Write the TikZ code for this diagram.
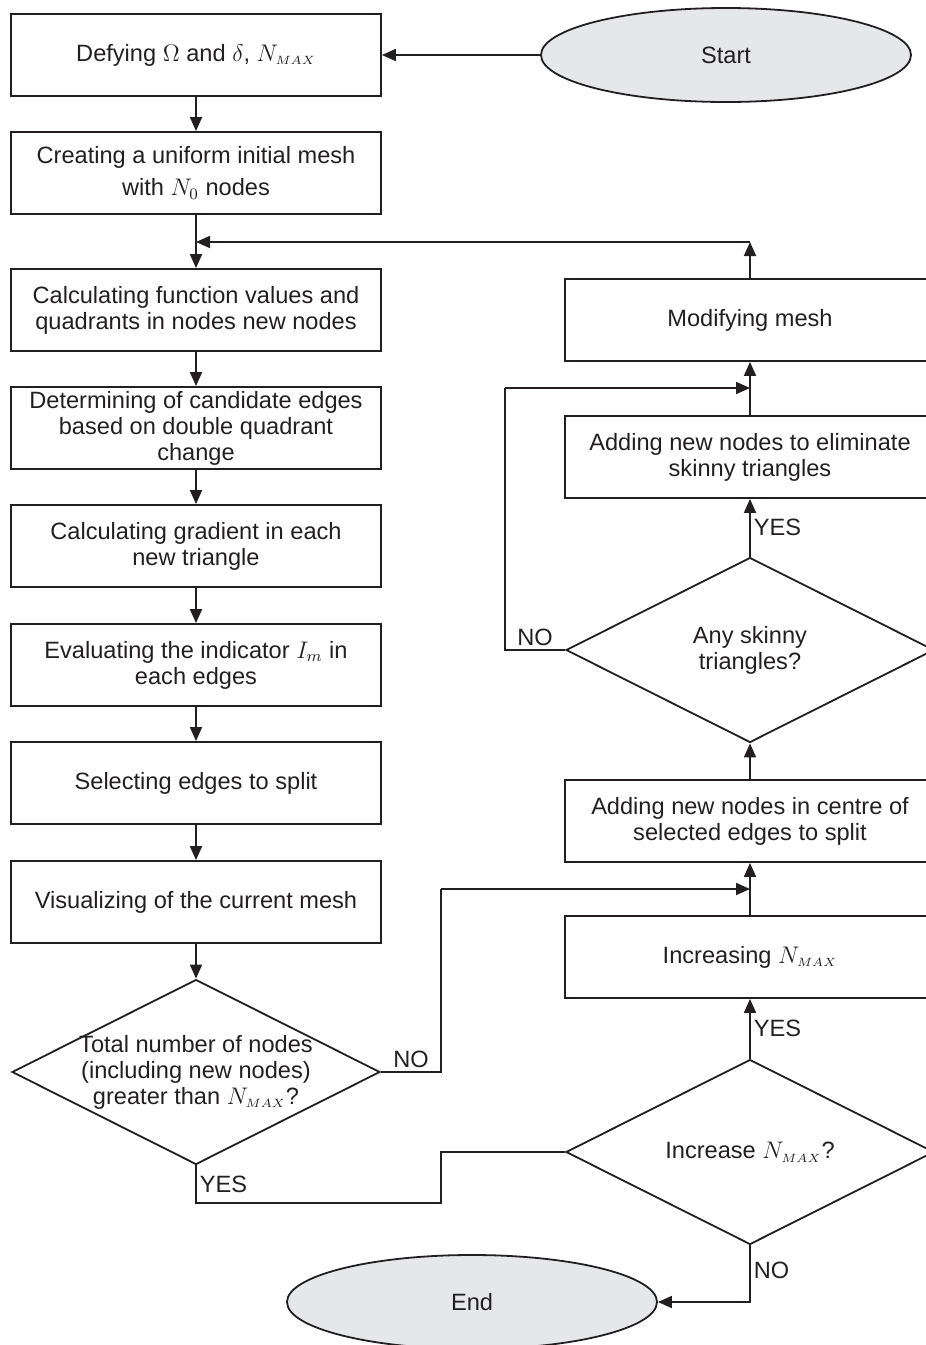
\documentclass[tikz,border=0pt]{standalone}
\usepackage{fontspec}
\setmainfont{Liberation Sans}
\usepackage{tikz}
\usetikzlibrary{arrows.meta,shapes.geometric,calc}
\definecolor{mfink}{HTML}{231F20}
\definecolor{mfgrey}{HTML}{E6E7E8}
\newcommand{\mffont}{\fontsize{11.8pt}{13pt}\selectfont}
\newcommand{\Nmaxsym}{\ensuremath{N_{\scriptscriptstyle MAX}}}
\tikzset{
mfbox/.style={rectangle,draw=mfink,line width=0.9pt,align=center,inner sep=2pt,minimum width=185pt,minimum height=41pt},
mfdec/.style={diamond,draw=mfink,line width=0.9pt,align=center,aspect=2,inner sep=-2pt,minimum width=184pt,minimum height=92.5pt},
mfterm/.style={ellipse,draw=mfink,line width=0.9pt,fill=mfgrey,minimum width=185pt,minimum height=47pt},
mfwire/.style={line width=0.9pt,draw=mfink},
mfarr/.style={mfwire,-{Triangle[length=7pt,width=6pt]}},
mflabel/.style={font=\mffont,inner sep=1.5pt,text=mfink}
}

\begin{document}
\begin{tikzpicture}[
x=0.5pt,
y=-0.5pt,
every node/.style={font=\mffont,text=mfink}
]
\useasboundingbox (0,0) rectangle (926,1345);
\clip (0,0) rectangle (926,1345);
% left column
\node[mfbox] (define) at (196,55) {Defying $\Omega$ and $\delta$, \Nmaxsym};
\node[mfbox] (initmesh) at (196,173) {Creating a uniform initial mesh\\[3pt]with $N_0$ nodes};
\node[mfbox] (funcvals) at (196,310) {Calculating function values and\\quadrants in nodes new nodes};
\node[mfbox] (candidate) at (196,428) {Determining of candidate edges\\based on double quadrant\\change};
\node[mfbox] (gradient) at (196,546) {Calculating gradient in each\\new triangle};
\node[mfbox] (indicator) at (196,665) {Evaluating the indicator $I_m$ in\\each edges};
\node[mfbox] (select) at (196,783) {Selecting edges to split};
\node[mfbox] (visual) at (196,902) {Visualizing of the current mesh};
\node[mfdec] (total) at (196,1072) {Total number of nodes\\(including new nodes)\\greater than \Nmaxsym?};
% right column
\node[mfterm] (start) at (726,55) {Start};
\node[mfbox] (modify) at (750,320) {Modifying mesh};
\node[mfbox] (eliminate) at (750,457) {Adding new nodes to eliminate\\skinny triangles};
\node[mfdec] (skinny) at (750,650) {Any skinny\\triangles?};
\node[mfbox] (centre) at (750,821) {Adding new nodes in centre of\\selected edges to split};
\node[mfbox] (increase) at (750,957) {Increasing \Nmaxsym};
\node[mfdec] (askmax) at (750,1152) {Increase \Nmaxsym?};
\node[mfterm] (finish) at (472,1302) {End};
\coordinate (looptop) at (750,242);
\coordinate (loopin) at (196,242);
\coordinate (noturn) at (441,889);
\coordinate (centrein) at (750,889);
\coordinate (yesturn) at (441,1203);
\coordinate (skinnyturn) at (505,388);
\coordinate (modifyin) at (750,388);
% connectors
\draw[mfarr] (start)--(define);
\draw[mfarr] (define)--(initmesh);
\draw[mfarr] (initmesh)--(funcvals);
\draw[mfarr] (funcvals)--(candidate);
\draw[mfarr] (candidate)--(gradient);
\draw[mfarr] (gradient)--(indicator);
\draw[mfarr] (indicator)--(select);
\draw[mfarr] (select)--(visual);
\draw[mfarr] (visual)--(total);
\draw[mfwire] (total.east)-|node[mflabel,above,pos=0.25]{NO}(noturn);
\draw[mfarr] (noturn)--(centrein);
\draw[mfwire] (total.south)--node[mflabel,right]{YES}(total.south|-yesturn)--(yesturn)|-(askmax.west);
\draw[mfarr] (askmax)--node[mflabel,right]{YES}(increase);
\draw[mfarr] (askmax.south)|-node[mflabel,right,pos=0.22]{NO}(finish.east);
\draw[mfarr] (increase)--(centre);
\draw[mfarr] (centre)--(skinny);
\draw[mfarr] (skinny)--node[mflabel,right]{YES}(eliminate);
\draw[mfwire] (skinny.west)-|node[mflabel,above,pos=0.25]{NO}(skinnyturn);
\draw[mfarr] (skinnyturn)--(modifyin);
\draw[mfarr] (eliminate)--(modify);
\draw[mfarr] (modify)--(looptop);
\draw[mfarr] (looptop)--(loopin);
\end{tikzpicture}
\end{document}
